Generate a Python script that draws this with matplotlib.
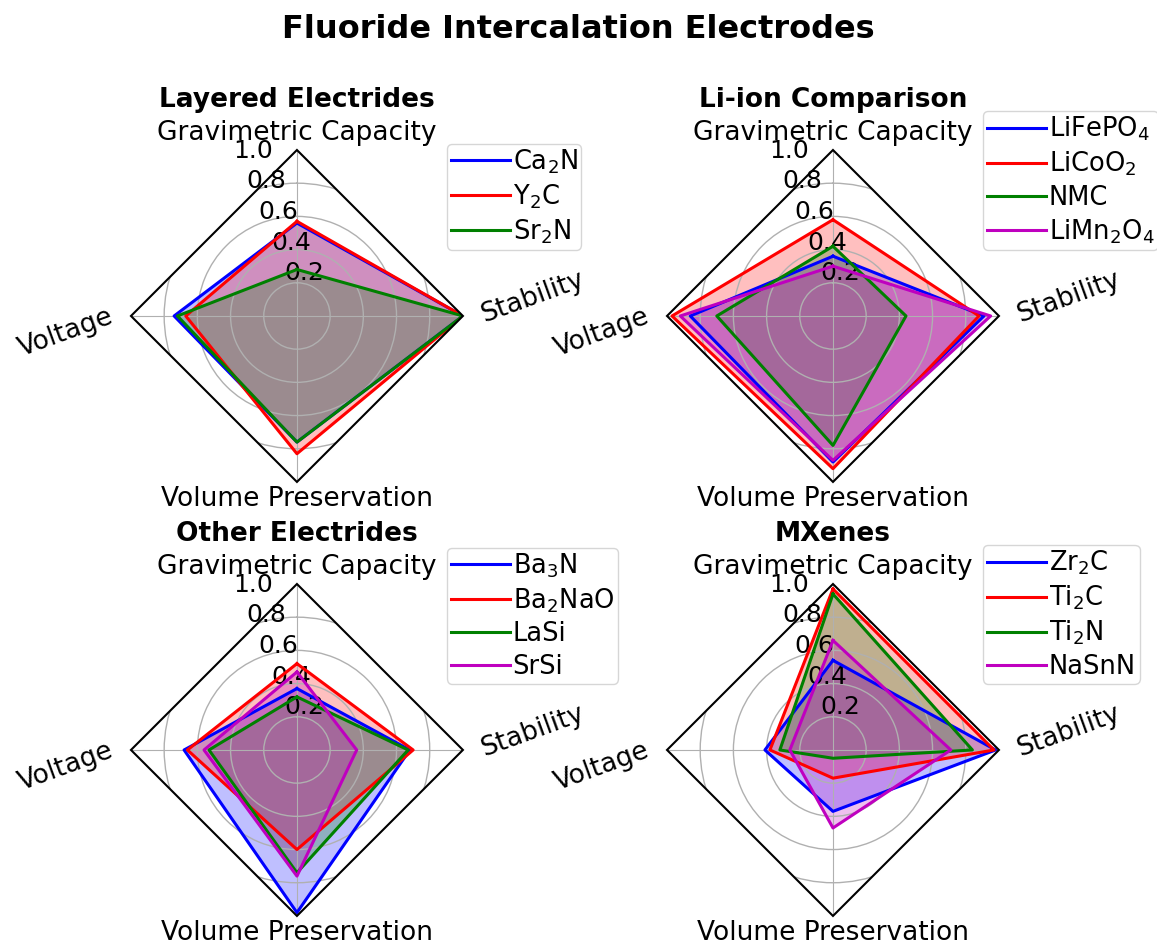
import numpy as np
import matplotlib
matplotlib.use("Agg")
import matplotlib.pyplot as plt
from matplotlib.patches import RegularPolygon
from matplotlib.path import Path
from matplotlib.projections import register_projection
from matplotlib.projections.polar import PolarAxes
from matplotlib.spines import Spine
from matplotlib.transforms import Affine2D

# axis order goes counter-clockwise from the top
variables = ['Gravimetric Capacity', 'Voltage', 'Volume Preservation', 'Stability']
colors = ['b', 'r', 'g', 'm']

layered_names = ['Ca$_2$N', 'Y$_2$C', 'Sr$_2$N']
layered_values = [
    [0.56, 0.74, 0.76, 1.00],
    [0.57, 0.67, 0.83, 1.00],
    [0.28, 0.72, 0.76, 1.00],
]

liion_names = ['LiFePO$_4$', 'LiCoO$_2$', 'NMC', 'LiMn$_2$O$_4$']
liion_values = [
    [0.36, 0.86, 0.88, 0.91],
    [0.58, 0.97, 0.92, 0.88],
    [0.42, 0.70, 0.78, 0.44],
    [0.30, 0.92, 0.87, 0.95],
]

other_names = ['Ba$_3$N', 'Ba$_2$NaO', 'LaSi', 'SrSi']
other_values = [
    [0.37, 0.68, 0.98, 0.68],
    [0.52, 0.66, 0.60, 0.70],
    [0.32, 0.53, 0.74, 0.67],
    [0.47, 0.56, 0.76, 0.36],
]

mxene_names = ['Zr$_2$C', 'Ti$_2$C', 'Ti$_2$N', 'NaSnN']
mxene_values = [
    [0.54, 0.41, 0.37, 0.98],
    [0.97, 0.38, 0.17, 0.97],
    [0.94, 0.32, 0.05, 0.84],
    [0.66, 0.26, 0.47, 0.71],
]

panels = [
    ('Layered Electrides', layered_names, layered_values),
    ('Li-ion Comparison', liion_names, liion_values),
    ('Other Electrides', other_names, other_values),
    ('MXenes', mxene_names, mxene_values),
]

N = len(variables)
theta = np.linspace(0, 2 * np.pi, N, endpoint=False)


class RadarAxes(PolarAxes):
    name = 'radar'

    def __init__(self, *args, **kwargs):
        super().__init__(*args, **kwargs)
        self.set_theta_zero_location('N')

    def _gen_axes_patch(self):
        return RegularPolygon((0.5, 0.5), N, radius=0.5, edgecolor='k')

    def _gen_axes_spines(self):
        spine = Spine(axes=self, spine_type='circle',
                      path=Path.unit_regular_polygon(N))
        spine.set_transform(Affine2D().scale(0.5).translate(0.5, 0.5) + self.transAxes)
        return {'polar': spine}


register_projection(RadarAxes)

fig = plt.figure(figsize=(11.57, 9.48), dpi=100)
fig.text(0.5, 1 - 38 / 948, 'Fluoride Intercalation Electrodes',
         ha='center', va='baseline', fontsize=23, fontweight='bold')

positions = [
    [0.1132, 0.4916, 0.2869, 0.3502],
    [0.5765, 0.4916, 0.2869, 0.3502],
    [0.1132, 0.0338, 0.2869, 0.3502],
    [0.5765, 0.0338, 0.2869, 0.3502],
]

# (r, ha, va, rotation) for each axis label
label_style = [
    (1.06, 'center', 'baseline', 0),
    (1.114, 'right', 'center', 20),
    (1.025, 'center', 'top', 0),
    (1.114, 'left', 'center', 20),
]

for pos, (title, names, values) in zip(positions, panels):
    ax = fig.add_axes(pos, projection='radar')
    ax.set_ylim(0, 1)
    ax.set_rgrids([0.2, 0.4, 0.6, 0.8, 1.0], fontsize=18)
    ax.set_thetagrids(np.degrees(theta), [''] * N)
    ax.spines['polar'].set_linewidth(1.5)
    ax.yaxis.grid(True, linewidth=1.0, color='#b0b0b0')
    ax.set_title(title, fontsize=19, fontweight='bold', pad=31)

    for name, vals, c in zip(names, values, colors):
        t = np.append(theta, theta[0])
        v = np.append(vals, vals[0])
        ax.plot(t, v, color=c, linewidth=2.2, label=name)
        ax.fill(theta, vals, facecolor=c, alpha=0.25)

    for th, lab, (r, ha, va, rot) in zip(theta, variables, label_style):
        ax.text(th, r, lab, ha=ha, va=va, rotation=rot, rotation_mode='anchor',
                fontsize=19, clip_on=False)

    ax.legend(loc='lower left', bbox_to_anchor=(0.952, 0.70), borderaxespad=0,
              fontsize=18.5, borderpad=0.15, handlelength=2.3,
              handletextpad=0.1, labelspacing=0.25)

fig.savefig('out.png', dpi=100)
